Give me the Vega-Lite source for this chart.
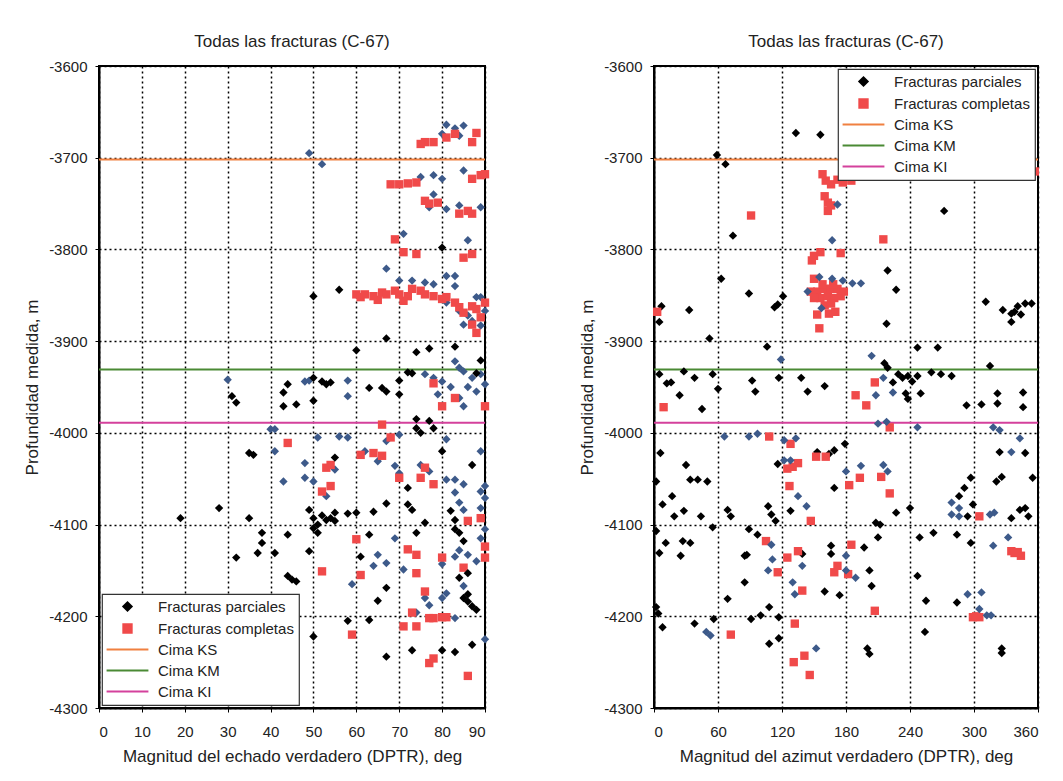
{
  "$schema": "https://vega.github.io/schema/vega-lite/v6.json",
  "background": "white",
  "padding": {"left": 22, "top": 32, "right": 5, "bottom": 5},
  "spacing": 86,
  "config": {
    "font": "Liberation Sans",
    "view": {"stroke": "black", "strokeWidth": 2},
    "axis": {
      "grid": true, "gridColor": "black", "gridDash": [2, 3], "gridWidth": 1.5,
      "domainColor": "black", "domainWidth": 2, "tickColor": "black", "tickSize": 4,
      "labelFont": "Liberation Sans", "labelFontSize": 15, "labelColor": "#222",
      "titleFont": "Liberation Sans", "titleFontSize": 17, "titleFontWeight": "normal", "titleColor": "#222"
    },
    "title": {"font": "Liberation Sans", "fontSize": 17, "fontWeight": "normal", "color": "#222", "offset": 8},
    "legend": {
      "title": null, "fillColor": "white", "strokeColor": "#333", "strokeWidth": 1.2, "padding": 5,
      "labelFont": "Liberation Sans", "labelFontSize": 15, "labelColor": "#222",
      "symbolSize": 70, "symbolStrokeWidth": 2, "rowPadding": 5, "symbolOffset": 13, "labelOffset": 23
    }
  },
  "datasets": {
    "cimas": [
      {"s": "KS", "p": -3702},
      {"s": "KM", "p": -3931},
      {"s": "KI", "p": -3989}
    ],
    "echado": [
      {"v":49,"p":-3695,"s":"O"},{"v":52,"p":-3707,"s":"O"},{"v":81,"p":-3664,"s":"O"},{"v":83,"p":-3668,"s":"O"},{"v":85,"p":-3665,"s":"O"},{"v":84,"p":-3676,"s":"O"},{"v":80,"p":-3674,"s":"O"},
      {"v":75,"p":-3721,"s":"O"},{"v":78,"p":-3719,"s":"O"},{"v":80,"p":-3723,"s":"O"},{"v":85,"p":-3714,"s":"O"},
      {"v":78,"p":-3740,"s":"O"},{"v":77,"p":-3754,"s":"O"},{"v":81,"p":-3756,"s":"O"},{"v":84,"p":-3752,"s":"O"},{"v":89,"p":-3754,"s":"O"},
      {"v":71,"p":-3783,"s":"O"},{"v":86,"p":-3790,"s":"O"},
      {"v":67,"p":-3821,"s":"O"},{"v":81,"p":-3829,"s":"O"},{"v":83,"p":-3829,"s":"O"},{"v":73,"p":-3834,"s":"O"},{"v":76,"p":-3836,"s":"O"},{"v":70,"p":-3834,"s":"O"},{"v":78,"p":-3838,"s":"O"},{"v":83,"p":-3840,"s":"O"},
      {"v":81,"p":-3858,"s":"O"},{"v":84,"p":-3867,"s":"O"},{"v":86,"p":-3872,"s":"O"},{"v":88,"p":-3852,"s":"O"},{"v":89,"p":-3852,"s":"O"},{"v":85,"p":-3882,"s":"O"},{"v":87,"p":-3878,"s":"O"},{"v":89,"p":-3883,"s":"O"},{"v":90,"p":-3867,"s":"O"},
      {"v":30,"p":-3942,"s":"O"},{"v":48,"p":-3944,"s":"O"},{"v":58,"p":-3943,"s":"O"},{"v":49,"p":-3943,"s":"O"},
      {"v":83,"p":-3922,"s":"O"},{"v":84,"p":-3929,"s":"O"},{"v":85,"p":-3933,"s":"O"},{"v":87,"p":-3940,"s":"O"},{"v":89,"p":-3936,"s":"O"},{"v":90,"p":-3947,"s":"O"},{"v":78,"p":-3940,"s":"O"},{"v":80,"p":-3944,"s":"O"},{"v":76,"p":-3936,"s":"O"},{"v":86,"p":-3950,"s":"O"},{"v":88,"p":-3955,"s":"O"},{"v":82,"p":-3950,"s":"O"},
      {"v":58,"p":-3960,"s":"O"},{"v":79,"p":-3958,"s":"O"},{"v":85,"p":-3971,"s":"O"},{"v":84,"p":-3962,"s":"O"},
      {"v":40,"p":-3996,"s":"O"},{"v":41,"p":-3996,"s":"O"},{"v":51,"p":-4005,"s":"O"},{"v":56,"p":-4004,"s":"O"},{"v":58,"p":-4005,"s":"O"},{"v":70,"p":-4002,"s":"O"},{"v":67,"p":-4009,"s":"O"},{"v":81,"p":-4007,"s":"O"},{"v":89,"p":-4020,"s":"O"},
      {"v":41,"p":-4020,"s":"O"},{"v":65,"p":-4031,"s":"O"},{"v":48,"p":-4033,"s":"O"},{"v":69,"p":-4036,"s":"O"},{"v":70,"p":-4044,"s":"O"},{"v":75,"p":-4035,"s":"O"},{"v":77,"p":-4042,"s":"O"},
      {"v":43,"p":-4053,"s":"O"},{"v":48,"p":-4049,"s":"O"},{"v":50,"p":-4053,"s":"O"},{"v":81,"p":-4051,"s":"O"},{"v":83,"p":-4051,"s":"O"},{"v":85,"p":-4056,"s":"O"},{"v":53,"p":-4069,"s":"O"},{"v":90,"p":-4058,"s":"O"},{"v":89,"p":-4064,"s":"O"},{"v":90,"p":-4071,"s":"O"},{"v":83,"p":-4065,"s":"O"},{"v":84,"p":-4076,"s":"O"},{"v":85,"p":-4084,"s":"O"},{"v":89,"p":-4082,"s":"O"},
      {"v":69,"p":-4115,"s":"O"},{"v":65,"p":-4133,"s":"O"},{"v":67,"p":-4142,"s":"O"},{"v":64,"p":-4145,"s":"O"},{"v":71,"p":-4149,"s":"O"},{"v":80,"p":-4143,"s":"O"},{"v":83,"p":-4135,"s":"O"},{"v":86,"p":-4133,"s":"O"},{"v":89,"p":-4115,"s":"O"},{"v":84,"p":-4128,"s":"O"},{"v":88,"p":-4140,"s":"O"},{"v":90,"p":-4105,"s":"O"},
      {"v":59,"p":-4165,"s":"O"},{"v":76,"p":-4180,"s":"O"},{"v":77,"p":-4188,"s":"O"},{"v":80,"p":-4180,"s":"O"},{"v":85,"p":-4167,"s":"O"},{"v":81,"p":-4175,"s":"O"},{"v":74,"p":-4196,"s":"O"},{"v":83,"p":-4202,"s":"O"},{"v":90,"p":-4225,"s":"O"},{"v":55,"p":-4040,"s":"O"},{"v":62,"p":-4020,"s":"O"},
      {"v":76,"p":-3683,"s":"C"},{"v":78,"p":-3683,"s":"C"},{"v":81,"p":-3678,"s":"C"},{"v":83,"p":-3674,"s":"C"},{"v":87,"p":-3683,"s":"C"},{"v":88,"p":-3673,"s":"C"},{"v":75,"p":-3685,"s":"C"},
      {"v":68,"p":-3729,"s":"C"},{"v":70,"p":-3729,"s":"C"},{"v":72,"p":-3728,"s":"C"},{"v":74,"p":-3727,"s":"C"},{"v":87,"p":-3723,"s":"C"},{"v":89,"p":-3719,"s":"C"},{"v":90,"p":-3718,"s":"C"},
      {"v":76,"p":-3747,"s":"C"},{"v":77,"p":-3750,"s":"C"},{"v":79,"p":-3749,"s":"C"},{"v":86,"p":-3758,"s":"C"},{"v":87,"p":-3761,"s":"C"},{"v":84,"p":-3761,"s":"C"},
      {"v":69,"p":-3789,"s":"C"},{"v":71,"p":-3803,"s":"C"},{"v":74,"p":-3805,"s":"C"},{"v":85,"p":-3809,"s":"C"},{"v":87,"p":-3805,"s":"C"},
      {"v":60,"p":-3849,"s":"C"},{"v":61,"p":-3852,"s":"C"},{"v":62,"p":-3849,"s":"C"},{"v":64,"p":-3851,"s":"C"},{"v":66,"p":-3847,"s":"C"},{"v":67,"p":-3849,"s":"C"},{"v":69,"p":-3845,"s":"C"},{"v":70,"p":-3849,"s":"C"},{"v":72,"p":-3851,"s":"C"},{"v":73,"p":-3843,"s":"C"},{"v":75,"p":-3845,"s":"C"},{"v":76,"p":-3849,"s":"C"},{"v":78,"p":-3851,"s":"C"},{"v":80,"p":-3854,"s":"C"},{"v":81,"p":-3852,"s":"C"},{"v":83,"p":-3858,"s":"C"},{"v":84,"p":-3863,"s":"C"},{"v":85,"p":-3869,"s":"C"},{"v":87,"p":-3862,"s":"C"},{"v":88,"p":-3865,"s":"C"},{"v":90,"p":-3858,"s":"C"},{"v":89,"p":-3874,"s":"C"},{"v":87,"p":-3882,"s":"C"},{"v":88,"p":-3891,"s":"C"},{"v":65,"p":-3855,"s":"C"},{"v":71,"p":-3856,"s":"C"},
      {"v":78,"p":-3946,"s":"C"},{"v":80,"p":-3971,"s":"C"},{"v":83,"p":-3962,"s":"C"},{"v":90,"p":-3971,"s":"C"},
      {"v":66,"p":-3991,"s":"C"},{"v":68,"p":-4005,"s":"C"},{"v":44,"p":-4011,"s":"C"},
      {"v":61,"p":-4024,"s":"C"},{"v":64,"p":-4022,"s":"C"},{"v":66,"p":-4025,"s":"C"},{"v":53,"p":-4038,"s":"C"},{"v":54,"p":-4035,"s":"C"},{"v":76,"p":-4038,"s":"C"},
      {"v":70,"p":-4049,"s":"C"},{"v":75,"p":-4049,"s":"C"},{"v":78,"p":-4056,"s":"C"},{"v":52,"p":-4064,"s":"C"},{"v":54,"p":-4058,"s":"C"},
      {"v":86,"p":-4096,"s":"C"},{"v":89,"p":-4093,"s":"C"},{"v":90,"p":-4124,"s":"C"},{"v":90,"p":-4136,"s":"C"},
      {"v":60,"p":-4116,"s":"C"},{"v":72,"p":-4127,"s":"C"},{"v":74,"p":-4133,"s":"C"},{"v":74,"p":-4153,"s":"C"},{"v":80,"p":-4136,"s":"C"},{"v":85,"p":-4147,"s":"C"},
      {"v":52,"p":-4151,"s":"C"},{"v":61,"p":-4155,"s":"C"},{"v":76,"p":-4173,"s":"C"},
      {"v":73,"p":-4196,"s":"C"},{"v":77,"p":-4202,"s":"C"},{"v":78,"p":-4202,"s":"C"},{"v":80,"p":-4201,"s":"C"},{"v":81,"p":-4201,"s":"C"},{"v":59,"p":-4220,"s":"C"},{"v":71,"p":-4211,"s":"C"},{"v":74,"p":-4211,"s":"C"},
      {"v":77,"p":-4251,"s":"C"},{"v":78,"p":-4246,"s":"C"},{"v":86,"p":-4265,"s":"C"},
      {"v":80,"p":-3798,"s":"P"},{"v":56,"p":-3844,"s":"P"},{"v":50,"p":-3851,"s":"P"},
      {"v":60,"p":-3910,"s":"P"},{"v":67,"p":-3897,"s":"P"},{"v":74,"p":-3912,"s":"P"},{"v":77,"p":-3908,"s":"P"},{"v":83,"p":-3906,"s":"P"},{"v":89,"p":-3921,"s":"P"},{"v":88,"p":-3935,"s":"P"},
      {"v":44,"p":-3947,"s":"P"},{"v":50,"p":-3940,"s":"P"},{"v":52,"p":-3944,"s":"P"},{"v":53,"p":-3947,"s":"P"},{"v":63,"p":-3951,"s":"P"},{"v":66,"p":-3951,"s":"P"},{"v":70,"p":-3943,"s":"P"},{"v":72,"p":-3934,"s":"P"},{"v":73,"p":-3935,"s":"P"},{"v":54,"p":-3945,"s":"P"},
      {"v":31,"p":-3960,"s":"P"},{"v":32,"p":-3967,"s":"P"},{"v":43,"p":-3971,"s":"P"},{"v":43,"p":-3956,"s":"P"},{"v":46,"p":-3969,"s":"P"},{"v":50,"p":-3965,"s":"P"},{"v":70,"p":-3958,"s":"P"},{"v":67,"p":-3955,"s":"P"},
      {"v":74,"p":-3985,"s":"P"},{"v":74,"p":-3995,"s":"P"},{"v":75,"p":-4000,"s":"P"},{"v":78,"p":-3995,"s":"P"},{"v":77,"p":-3987,"s":"P"},{"v":80,"p":-4020,"s":"P"},
      {"v":35,"p":-4022,"s":"P"},{"v":36,"p":-4024,"s":"P"},{"v":55,"p":-4027,"s":"P"},{"v":87,"p":-4035,"s":"P"},{"v":72,"p":-4060,"s":"P"},
      {"v":28,"p":-4082,"s":"P"},{"v":19,"p":-4093,"s":"P"},{"v":35,"p":-4093,"s":"P"},{"v":49,"p":-4084,"s":"P"},{"v":60,"p":-4087,"s":"P"},{"v":64,"p":-4086,"s":"P"},{"v":67,"p":-4077,"s":"P"},{"v":72,"p":-4078,"s":"P"},{"v":73,"p":-4084,"s":"P"},{"v":76,"p":-4098,"s":"P"},
      {"v":50,"p":-4093,"s":"P"},{"v":51,"p":-4100,"s":"P"},{"v":51,"p":-4109,"s":"P"},{"v":53,"p":-4095,"s":"P"},{"v":54,"p":-4093,"s":"P"},{"v":55,"p":-4096,"s":"P"},{"v":55,"p":-4087,"s":"P"},{"v":58,"p":-4088,"s":"P"},{"v":50,"p":-4104,"s":"P"},{"v":52,"p":-4090,"s":"P"},
      {"v":82,"p":-4085,"s":"P"},{"v":83,"p":-4095,"s":"P"},{"v":83,"p":-4105,"s":"P"},
      {"v":38,"p":-4109,"s":"P"},{"v":44,"p":-4111,"s":"P"},{"v":37,"p":-4131,"s":"P"},{"v":38,"p":-4120,"s":"P"},{"v":41,"p":-4131,"s":"P"},{"v":32,"p":-4136,"s":"P"},{"v":49,"p":-4129,"s":"P"},{"v":63,"p":-4111,"s":"P"},{"v":61,"p":-4135,"s":"P"},{"v":74,"p":-4109,"s":"P"},{"v":85,"p":-4118,"s":"P"},{"v":84,"p":-4109,"s":"P"},{"v":86,"p":-4153,"s":"P"},{"v":84,"p":-4158,"s":"P"},
      {"v":44,"p":-4156,"s":"P"},{"v":46,"p":-4162,"s":"P"},{"v":45,"p":-4160,"s":"P"},{"v":67,"p":-4169,"s":"P"},
      {"v":86,"p":-4176,"s":"P"},{"v":86,"p":-4184,"s":"P"},{"v":87,"p":-4189,"s":"P"},{"v":88,"p":-4193,"s":"P"},{"v":85,"p":-4180,"s":"P"},
      {"v":65,"p":-4183,"s":"P"},{"v":58,"p":-4205,"s":"P"},{"v":63,"p":-4204,"s":"P"},{"v":50,"p":-4222,"s":"P"},
      {"v":67,"p":-4244,"s":"P"},{"v":73,"p":-4237,"s":"P"},{"v":80,"p":-4237,"s":"P"},{"v":83,"p":-4239,"s":"P"},{"v":87,"p":-4231,"s":"P"}
    ],
    "azimut": [
      {"v":59,"p":-3697,"s":"P"},{"v":67,"p":-3707,"s":"P"},{"v":133,"p":-3673,"s":"P"},{"v":156,"p":-3675,"s":"P"},{"v":272,"p":-3758,"s":"P"},{"v":74,"p":-3785,"s":"P"},
      {"v":63,"p":-3832,"s":"P"},{"v":89,"p":-3848,"s":"P"},{"v":113,"p":-3863,"s":"P"},{"v":116,"p":-3860,"s":"P"},{"v":121,"p":-3851,"s":"P"},{"v":219,"p":-3823,"s":"P"},{"v":227,"p":-3844,"s":"P"},{"v":218,"p":-3881,"s":"P"},
      {"v":311,"p":-3857,"s":"P"},{"v":327,"p":-3866,"s":"P"},{"v":335,"p":-3870,"s":"P"},{"v":341,"p":-3862,"s":"P"},{"v":344,"p":-3871,"s":"P"},{"v":348,"p":-3859,"s":"P"},{"v":354,"p":-3859,"s":"P"},{"v":335,"p":-3879,"s":"P"},{"v":338,"p":-3868,"s":"P"},
      {"v":7,"p":-3862,"s":"P"},{"v":5,"p":-3879,"s":"P"},{"v":33,"p":-3866,"s":"P"},{"v":52,"p":-3897,"s":"P"},{"v":106,"p":-3906,"s":"P"},{"v":247,"p":-3907,"s":"P"},{"v":266,"p":-3907,"s":"P"},{"v":216,"p":-3924,"s":"P"},{"v":315,"p":-3927,"s":"P"},
      {"v":5,"p":-3936,"s":"P"},{"v":16,"p":-3945,"s":"P"},{"v":28,"p":-3933,"s":"P"},{"v":38,"p":-3940,"s":"P"},{"v":55,"p":-3936,"s":"P"},{"v":92,"p":-3943,"s":"P"},{"v":117,"p":-3940,"s":"P"},{"v":138,"p":-3940,"s":"P"},{"v":160,"p":-3949,"s":"P"},{"v":219,"p":-3929,"s":"P"},{"v":229,"p":-3936,"s":"P"},{"v":238,"p":-3938,"s":"P"},{"v":247,"p":-3938,"s":"P"},{"v":260,"p":-3934,"s":"P"},{"v":269,"p":-3936,"s":"P"},{"v":279,"p":-3938,"s":"P"},{"v":233,"p":-3940,"s":"P"},{"v":224,"p":-3945,"s":"P"},{"v":242,"p":-3944,"s":"P"},
      {"v":24,"p":-3959,"s":"P"},{"v":45,"p":-3974,"s":"P"},{"v":293,"p":-3970,"s":"P"},{"v":307,"p":-3969,"s":"P"},{"v":322,"p":-3957,"s":"P"},{"v":322,"p":-3968,"s":"P"},{"v":346,"p":-3972,"s":"P"},{"v":346,"p":-3956,"s":"P"},{"v":236,"p":-3957,"s":"P"},{"v":250,"p":-3957,"s":"P"},{"v":238,"p":-3963,"s":"P"},{"v":12,"p":-3946,"s":"P"},{"v":60,"p":-3952,"s":"P"},{"v":95,"p":-3955,"s":"P"},{"v":144,"p":-3955,"s":"P"},
      {"v":6,"p":-4022,"s":"P"},{"v":30,"p":-4035,"s":"P"},{"v":34,"p":-4051,"s":"P"},{"v":41,"p":-4051,"s":"P"},{"v":50,"p":-4053,"s":"P"},{"v":2,"p":-4053,"s":"P"},{"v":116,"p":-4034,"s":"P"},{"v":153,"p":-4021,"s":"P"},{"v":164,"p":-4023,"s":"P"},{"v":169,"p":-4019,"s":"P"},{"v":179,"p":-4012,"s":"P"},{"v":324,"p":-4021,"s":"P"},{"v":348,"p":-4022,"s":"P"},{"v":297,"p":-4049,"s":"P"},{"v":291,"p":-4060,"s":"P"},{"v":286,"p":-4069,"s":"P"},{"v":321,"p":-4053,"s":"P"},{"v":326,"p":-4048,"s":"P"},{"v":355,"p":-4049,"s":"P"},{"v":169,"p":-4060,"s":"P"},
      {"v":8,"p":-4078,"s":"P"},{"v":17,"p":-4069,"s":"P"},{"v":19,"p":-4091,"s":"P"},{"v":28,"p":-4085,"s":"P"},{"v":44,"p":-4091,"s":"P"},{"v":69,"p":-4084,"s":"P"},{"v":72,"p":-4091,"s":"P"},{"v":107,"p":-4080,"s":"P"},{"v":110,"p":-4089,"s":"P"},{"v":114,"p":-4096,"s":"P"},{"v":128,"p":-4085,"s":"P"},{"v":227,"p":-4087,"s":"P"},{"v":240,"p":-4082,"s":"P"},{"v":294,"p":-4091,"s":"P"},{"v":299,"p":-4078,"s":"P"},{"v":335,"p":-4093,"s":"P"},{"v":343,"p":-4084,"s":"P"},{"v":348,"p":-4082,"s":"P"},{"v":351,"p":-4091,"s":"P"},{"v":208,"p":-4098,"s":"P"},{"v":212,"p":-4100,"s":"P"},
      {"v":2,"p":-4107,"s":"P"},{"v":11,"p":-4120,"s":"P"},{"v":27,"p":-4118,"s":"P"},{"v":34,"p":-4120,"s":"P"},{"v":5,"p":-4131,"s":"P"},{"v":25,"p":-4134,"s":"P"},{"v":55,"p":-4103,"s":"P"},{"v":89,"p":-4105,"s":"P"},{"v":97,"p":-4111,"s":"P"},{"v":210,"p":-4114,"s":"P"},{"v":249,"p":-4114,"s":"P"},{"v":262,"p":-4109,"s":"P"},{"v":284,"p":-4111,"s":"P"},{"v":297,"p":-4120,"s":"P"},{"v":197,"p":-4125,"s":"P"},{"v":166,"p":-4123,"s":"P"},{"v":166,"p":-4132,"s":"P"},{"v":139,"p":-4132,"s":"P"},{"v":85,"p":-4134,"s":"P"},{"v":87,"p":-4133,"s":"P"},
      {"v":85,"p":-4163,"s":"P"},{"v":247,"p":-4156,"s":"P"},{"v":202,"p":-4150,"s":"P"},{"v":204,"p":-4167,"s":"P"},{"v":160,"p":-4173,"s":"P"},{"v":174,"p":-4177,"s":"P"},{"v":69,"p":-4181,"s":"P"},{"v":255,"p":-4183,"s":"P"},{"v":284,"p":-4185,"s":"P"},{"v":108,"p":-4190,"s":"P"},{"v":100,"p":-4199,"s":"P"},{"v":91,"p":-4203,"s":"P"},{"v":117,"p":-4201,"s":"P"},{"v":56,"p":-4203,"s":"P"},{"v":2,"p":-4190,"s":"P"},{"v":4,"p":-4197,"s":"P"},
      {"v":8,"p":-4212,"s":"P"},{"v":38,"p":-4208,"s":"P"},{"v":117,"p":-4224,"s":"P"},{"v":108,"p":-4230,"s":"P"},{"v":254,"p":-4217,"s":"P"},{"v":200,"p":-4235,"s":"P"},{"v":202,"p":-4241,"s":"P"},{"v":326,"p":-4235,"s":"P"},{"v":326,"p":-4240,"s":"P"},
      {"v":91,"p":-3763,"s":"C"},{"v":215,"p":-3789,"s":"C"},{"v":3,"p":-3868,"s":"C"},
      {"v":161,"p":-3725,"s":"C"},{"v":166,"p":-3729,"s":"C"},{"v":172,"p":-3724,"s":"C"},{"v":177,"p":-3727,"s":"C"},{"v":185,"p":-3725,"s":"C"},{"v":160,"p":-3742,"s":"C"},{"v":163,"p":-3749,"s":"C"},{"v":166,"p":-3752,"s":"C"},{"v":163,"p":-3758,"s":"C"},{"v":158,"p":-3718,"s":"C"},{"v":357,"p":-3715,"s":"C"},
      {"v":150,"p":-3807,"s":"C"},{"v":156,"p":-3803,"s":"C"},{"v":175,"p":-3804,"s":"C"},{"v":148,"p":-3812,"s":"C"},
      {"v":150,"p":-3832,"s":"C"},{"v":147,"p":-3846,"s":"C"},{"v":153,"p":-3846,"s":"C"},{"v":160,"p":-3843,"s":"C"},{"v":166,"p":-3843,"s":"C"},{"v":172,"p":-3843,"s":"C"},{"v":178,"p":-3846,"s":"C"},{"v":156,"p":-3853,"s":"C"},{"v":163,"p":-3851,"s":"C"},{"v":169,"p":-3853,"s":"C"},{"v":175,"p":-3851,"s":"C"},{"v":150,"p":-3853,"s":"C"},{"v":160,"p":-3861,"s":"C"},{"v":166,"p":-3859,"s":"C"},{"v":153,"p":-3871,"s":"C"},{"v":164,"p":-3870,"s":"C"},{"v":170,"p":-3868,"s":"C"},{"v":155,"p":-3886,"s":"C"},{"v":158,"p":-3838,"s":"C"},{"v":168,"p":-3838,"s":"C"},
      {"v":207,"p":-3945,"s":"C"},{"v":9,"p":-3972,"s":"C"},{"v":199,"p":-3970,"s":"C"},{"v":189,"p":-3959,"s":"C"},
      {"v":221,"p":-3994,"s":"C"},{"v":108,"p":-4004,"s":"C"},{"v":128,"p":-4012,"s":"C"},
      {"v":125,"p":-4039,"s":"C"},{"v":130,"p":-4037,"s":"C"},{"v":135,"p":-4033,"s":"C"},{"v":152,"p":-4026,"s":"C"},{"v":161,"p":-4026,"s":"C"},{"v":183,"p":-4057,"s":"C"},{"v":193,"p":-4049,"s":"C"},{"v":213,"p":-4048,"s":"C"},{"v":221,"p":-4066,"s":"C"},{"v":127,"p":-4058,"s":"C"},
      {"v":147,"p":-4096,"s":"C"},{"v":305,"p":-4091,"s":"C"},
      {"v":105,"p":-4118,"s":"C"},{"v":335,"p":-4129,"s":"C"},{"v":338,"p":-4131,"s":"C"},{"v":344,"p":-4134,"s":"C"},{"v":341,"p":-4130,"s":"C"},{"v":185,"p":-4122,"s":"C"},{"v":125,"p":-4136,"s":"C"},{"v":135,"p":-4129,"s":"C"},
      {"v":116,"p":-4152,"s":"C"},{"v":169,"p":-4152,"s":"C"},{"v":172,"p":-4145,"s":"C"},{"v":182,"p":-4154,"s":"C"},{"v":139,"p":-4172,"s":"C"},{"v":207,"p":-4194,"s":"C"},{"v":299,"p":-4201,"s":"C"},{"v":305,"p":-4201,"s":"C"},{"v":302,"p":-4200,"s":"C"},
      {"v":72,"p":-4220,"s":"C"},{"v":132,"p":-4208,"s":"C"},{"v":131,"p":-4250,"s":"C"},{"v":141,"p":-4243,"s":"C"},{"v":146,"p":-4264,"s":"C"},
      {"v":119,"p":-3920,"s":"O"},{"v":204,"p":-3916,"s":"O"},{"v":215,"p":-3940,"s":"O"},{"v":172,"p":-3751,"s":"O"},{"v":188,"p":-3720,"s":"O"},{"v":167,"p":-3790,"s":"O"},{"v":144,"p":-3846,"s":"O"},{"v":155,"p":-3830,"s":"O"},{"v":167,"p":-3832,"s":"O"},{"v":177,"p":-3834,"s":"O"},{"v":186,"p":-3837,"s":"O"},{"v":194,"p":-3837,"s":"O"},{"v":157,"p":-3864,"s":"O"},
      {"v":208,"p":-3959,"s":"O"},{"v":224,"p":-3956,"s":"O"},
      {"v":210,"p":-3990,"s":"O"},{"v":218,"p":-3988,"s":"O"},{"v":247,"p":-3994,"s":"O"},{"v":318,"p":-3994,"s":"O"},{"v":324,"p":-3997,"s":"O"},{"v":66,"p":-4004,"s":"O"},{"v":89,"p":-4004,"s":"O"},{"v":97,"p":-4001,"s":"O"},{"v":122,"p":-4008,"s":"O"},{"v":133,"p":-4006,"s":"O"},{"v":343,"p":-4006,"s":"O"},
      {"v":122,"p":-4030,"s":"O"},{"v":128,"p":-4030,"s":"O"},{"v":180,"p":-4042,"s":"O"},{"v":194,"p":-4036,"s":"O"},{"v":215,"p":-4035,"s":"O"},{"v":219,"p":-4042,"s":"O"},{"v":335,"p":-4021,"s":"O"},
      {"v":135,"p":-4069,"s":"O"},{"v":143,"p":-4080,"s":"O"},{"v":279,"p":-4076,"s":"O"},{"v":286,"p":-4082,"s":"O"},{"v":279,"p":-4089,"s":"O"},{"v":286,"p":-4091,"s":"O"},{"v":315,"p":-4089,"s":"O"},{"v":319,"p":-4087,"s":"O"},
      {"v":110,"p":-4122,"s":"O"},{"v":318,"p":-4123,"s":"O"},{"v":332,"p":-4114,"s":"O"},{"v":180,"p":-4134,"s":"O"},{"v":111,"p":-4138,"s":"O"},{"v":139,"p":-4145,"s":"O"},
      {"v":107,"p":-4150,"s":"O"},{"v":189,"p":-4158,"s":"O"},{"v":180,"p":-4150,"s":"O"},{"v":130,"p":-4163,"s":"O"},{"v":132,"p":-4176,"s":"O"},{"v":294,"p":-4176,"s":"O"},{"v":307,"p":-4174,"s":"O"},{"v":312,"p":-4199,"s":"O"},{"v":316,"p":-4199,"s":"O"},{"v":305,"p":-4192,"s":"O"},
      {"v":49,"p":-4217,"s":"O"},{"v":53,"p":-4221,"s":"O"},{"v":152,"p":-4235,"s":"O"}
    ]
  },
  "hconcat": [
    {
      "width": 386,
      "height": 642,
      "title": "Todas las fracturas (C-67)",
      "layer": [
        {
          "data": {"name": "cimas"},
          "mark": {"type": "rule", "strokeWidth": 2},
          "encoding": {
            "y": {"field": "p", "type": "quantitative", "scale": {"domain": [-4300, -3600], "nice": false, "zero": false}},
            "stroke": {"field": "s", "type": "nominal",
              "scale": {"domain": ["P", "C", "KS", "KM", "KI", "O"], "range": ["#000000", "#f04a4a", "#f08040", "#4a8a34", "#d4419c", "#3d5a8a"]},
              "legend": {"orient": "bottom-left", "offset": 3, "values": ["P", "C", "KS", "KM", "KI"], "labelExpr": "datum.label == 'P' ? 'Fracturas parciales' : datum.label == 'C' ? 'Fracturas completas' : 'Cima ' + datum.label"}}
          }
        },
        {
          "data": {"name": "echado"},
          "mark": {"type": "point", "filled": true, "size": 70, "opacity": 1},
          "encoding": {
            "x": {"field": "v", "type": "quantitative", "scale": {"domain": [0, 90], "nice": false},
              "axis": {"title": "Magnitud del echado verdadero (DPTR), deg", "values": [0, 10, 20, 30, 40, 50, 60, 70, 80, 90], "labelPadding": 12, "titlePadding": 9}},
            "y": {"field": "p", "type": "quantitative", "scale": {"domain": [-4300, -3600], "nice": false, "zero": false},
              "axis": {"title": "Profundidad medida, m", "values": [-4300, -4200, -4100, -4000, -3900, -3800, -3700, -3600], "labelExpr": "'-' + abs(datum.value)", "labelPadding": 8, "titlePadding": 7}},
            "fill": {"field": "s", "type": "nominal",
              "scale": {"domain": ["P", "C", "KS", "KM", "KI", "O"], "range": ["#000000", "#f04a4a", "#f08040", "#4a8a34", "#d4419c", "#3d5a8a"]},
              "legend": {"orient": "bottom-left", "offset": 3, "values": ["P", "C", "KS", "KM", "KI"], "labelExpr": "datum.label == 'P' ? 'Fracturas parciales' : datum.label == 'C' ? 'Fracturas completas' : 'Cima ' + datum.label"}},
            "shape": {"field": "s", "type": "nominal",
              "scale": {"domain": ["P", "C", "KS", "KM", "KI", "O"], "range": ["diamond", "square", "M-5.0,0H5.0", "M-5.0,0H5.0", "M-5.0,0H5.0", "diamond"]},
              "legend": {"orient": "bottom-left", "offset": 3, "values": ["P", "C", "KS", "KM", "KI"], "labelExpr": "datum.label == 'P' ? 'Fracturas parciales' : datum.label == 'C' ? 'Fracturas completas' : 'Cima ' + datum.label"}}
          }
        }
      ]
    },
    {
      "width": 384,
      "height": 642,
      "title": "Todas las fracturas (C-67)",
      "layer": [
        {
          "data": {"name": "cimas"},
          "mark": {"type": "rule", "strokeWidth": 2},
          "encoding": {
            "y": {"field": "p", "type": "quantitative", "scale": {"domain": [-4300, -3600], "nice": false, "zero": false}},
            "stroke": {"field": "s", "type": "nominal",
              "scale": {"domain": ["P", "C", "KS", "KM", "KI", "O"], "range": ["#000000", "#f04a4a", "#f08040", "#4a8a34", "#d4419c", "#3d5a8a"]},
              "legend": {"orient": "top-right", "offset": 3, "values": ["P", "C", "KS", "KM", "KI"], "labelExpr": "datum.label == 'P' ? 'Fracturas parciales' : datum.label == 'C' ? 'Fracturas completas' : 'Cima ' + datum.label"}}
          }
        },
        {
          "data": {"name": "azimut"},
          "mark": {"type": "point", "filled": true, "size": 70, "opacity": 1},
          "encoding": {
            "x": {"field": "v", "type": "quantitative", "scale": {"domain": [0, 360], "nice": false},
              "axis": {"title": "Magnitud del azimut verdadero (DPTR), deg", "values": [0, 60, 120, 180, 240, 300, 360], "labelPadding": 12, "titlePadding": 9}},
            "y": {"field": "p", "type": "quantitative", "scale": {"domain": [-4300, -3600], "nice": false, "zero": false},
              "axis": {"title": "Profundidad medida, m", "values": [-4300, -4200, -4100, -4000, -3900, -3800, -3700, -3600], "labelExpr": "'-' + abs(datum.value)", "labelPadding": 8, "titlePadding": 7}},
            "fill": {"field": "s", "type": "nominal",
              "scale": {"domain": ["P", "C", "KS", "KM", "KI", "O"], "range": ["#000000", "#f04a4a", "#f08040", "#4a8a34", "#d4419c", "#3d5a8a"]},
              "legend": {"orient": "top-right", "offset": 3, "values": ["P", "C", "KS", "KM", "KI"], "labelExpr": "datum.label == 'P' ? 'Fracturas parciales' : datum.label == 'C' ? 'Fracturas completas' : 'Cima ' + datum.label"}},
            "shape": {"field": "s", "type": "nominal",
              "scale": {"domain": ["P", "C", "KS", "KM", "KI", "O"], "range": ["diamond", "square", "M-5.0,0H5.0", "M-5.0,0H5.0", "M-5.0,0H5.0", "diamond"]},
              "legend": {"orient": "top-right", "offset": 3, "values": ["P", "C", "KS", "KM", "KI"], "labelExpr": "datum.label == 'P' ? 'Fracturas parciales' : datum.label == 'C' ? 'Fracturas completas' : 'Cima ' + datum.label"}}
          }
        }
      ]
    }
  ]
}
